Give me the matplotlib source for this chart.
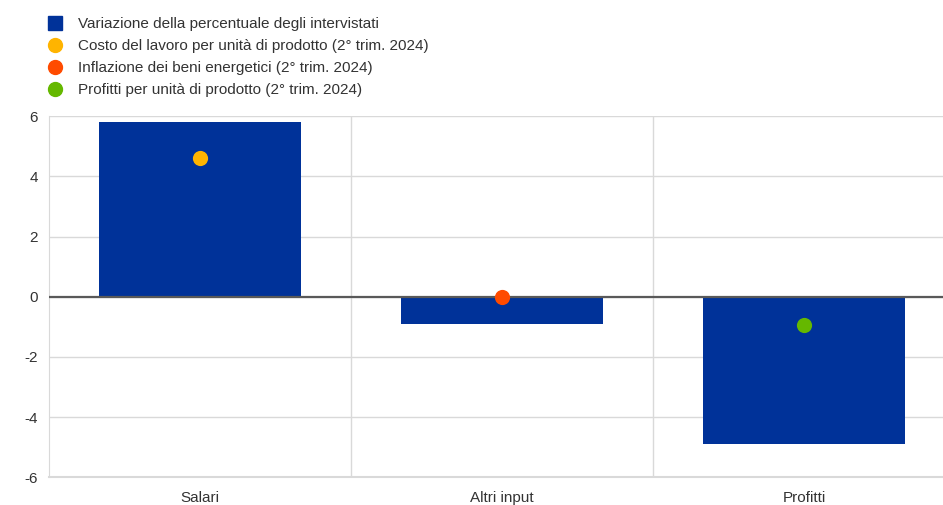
import matplotlib.pyplot as plt
from matplotlib.lines import Line2D
import numpy as np

plt.rcParams['font.family'] = ['Liberation Sans', 'DejaVu Sans']
plt.rcParams['axes.unicode_minus'] = False

# Dati
categorie = ['Salari', 'Altri input', 'Profitti']
variazione = [5.8, -0.9, -4.9]
indicatori = [4.6, 0.0, -0.95]

etichette = [
    'Variazione della percentuale degli intervistati',
    'Costo del lavoro per unità di prodotto (2° trim. 2024)',
    'Inflazione dei beni energetici (2° trim. 2024)',
    'Profitti per unità di prodotto (2° trim. 2024)',
]

COLORE_BARRE = '#003299'
COLORI_PUNTI = ['#ffb400', '#ff4b00', '#65b800']
COLORE_GRIGLIA = '#d9d9d9'
COLORE_TESTO = '#333333'

fig = plt.figure(figsize=(9.43, 5.05), dpi=100)
ax = fig.add_axes([0.052, 0.055, 0.961, 0.715])

x = np.arange(len(categorie))
ax.bar(x, variazione, width=0.67, color=COLORE_BARRE, zorder=2)
for xi, yi, c in zip(x, indicatori, COLORI_PUNTI):
    ax.scatter(xi, yi, s=120, color=c, zorder=4, linewidths=0)

ax.axhline(0, color='#595959', linewidth=1.6, zorder=3)

ax.set_xlim(-0.5, 2.5)
ax.set_ylim(-6, 6)
ax.set_yticks(range(-6, 7, 2))
ax.set_xticks(x)
ax.set_xticklabels(categorie)

# griglia orizzontale e separatori verticali
ax.grid(axis='y', color=COLORE_GRIGLIA, linewidth=1, zorder=0)
ax.axhline(-6, color=COLORE_GRIGLIA, linewidth=1.5, zorder=0, clip_on=False)
for xb in [0.5, 1.5]:
    ax.axvline(xb, color=COLORE_GRIGLIA, linewidth=1, zorder=0)

for s in ['top', 'right', 'bottom']:
    ax.spines[s].set_visible(False)
ax.spines['left'].set_color(COLORE_GRIGLIA)
ax.tick_params(length=0, labelsize=11, colors=COLORE_TESTO, pad=8)
ax.tick_params(axis='x', pad=10)

handles = [Line2D([], [], marker='s', linestyle='', markersize=10, color=COLORE_BARRE)]
handles += [Line2D([], [], marker='o', linestyle='', markersize=10, color=c) for c in COLORI_PUNTI]
fig.legend(handles, etichette, loc='upper left', bbox_to_anchor=(0.038, 0.99),
           frameon=False, fontsize=11, handlelength=0.9, handletextpad=1.05,
           labelspacing=0.52, borderaxespad=0.4, labelcolor=COLORE_TESTO)

plt.savefig('out.png', dpi=100)
